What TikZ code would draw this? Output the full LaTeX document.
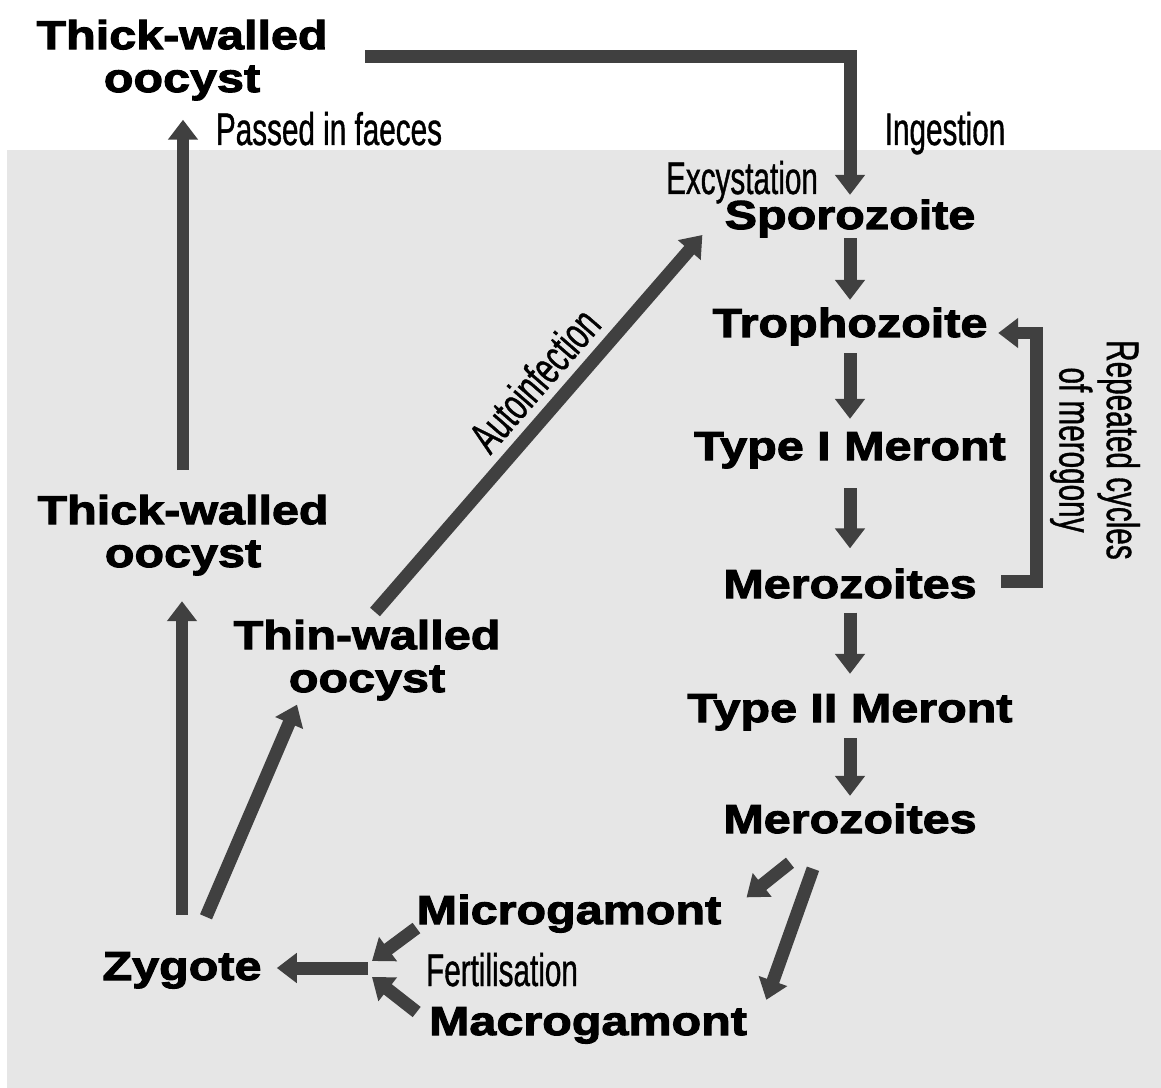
\documentclass[tikz,border=0pt]{standalone}
\usepackage{fontspec}
\setmainfont{Liberation Sans}
\newfontfamily\stagefont[FakeStretch=1.2,FakeBold=2.6]{Liberation Sans Bold}
\newfontfamily\notefont[FakeStretch=0.65,FakeBold=0.8]{Liberation Sans}
\usepackage{xcolor}
\usepackage{tikz}
\usetikzlibrary{arrows.meta,positioning,calc}
\definecolor{hostgrey}{HTML}{E6E6E6}
\definecolor{flowgrey}{HTML}{404040}

\begin{document}
\begin{tikzpicture}[x=0.02cm,y=-0.02cm,
  stage/.style={font=\stagefont\fontsize{23}{24.4}\selectfont,align=center,inner sep=0.15cm,anchor=base},
  note/.style={font=\notefont\fontsize{26}{27}\selectfont,align=center,inner sep=0pt,anchor=base},
  flow/.style={draw=flowgrey,line width=0.26cm,-{Triangle[length=0.4cm,width=0.58cm]}}]
  \useasboundingbox (0,0) rectangle (1161,1088);
  % inside the host
  \fill[hostgrey] (7,150) rectangle (1161,1088);

  \node[stage,anchor=north] (oocystout) at (182,12) {Thick-walled\\oocyst};
  \node[stage] (spor)    at (850,229)  {Sporozoite};
  \node[stage] (troph)   at (850,337)  {Trophozoite};
  \node[stage] (meront1) at (850,460)  {Type I Meront};
  \node[stage] (mero1)   at (850,598)  {Merozoites};
  \node[stage] (meront2) at (850,722)  {Type II Meront};
  \node[stage] (mero2)   at (850,833)  {Merozoites};
  \node[stage] (micro)   at (569,924)  {Microgamont};
  \node[stage] (macro)   at (588,1035) {Macrogamont};
  \node[stage] (zyg)     at (182,980)  {Zygote};
  \node[stage,anchor=north] (oocystin) at (183,487) {Thick-walled\\oocyst};
  \node[stage,anchor=north] (thin)     at (367,612) {Thin-walled\\oocyst};

  \node[note] (faeces) at (329,145) {Passed in faeces};
  \node[note] (ingest) at (945,145) {Ingestion};
  \node[note] (excyst) at (742,194) {Excystation};
  \node[note] (fert)   at (502,986) {Fertilisation};
  \node[note,anchor=center,rotate=-90] (merog) at (1095,450) {Repeated cycles\\of merogony};
  \coordinate (fertjoin) at (368,968);

  \draw[flow] ([shift={(30,-4)}]oocystout.east) -| ([shift={(0,3)}]spor.north);
  \draw[flow,shorten <=-0.14cm] (spor) -- (troph);
  \draw[flow,shorten >=0.11cm] (troph) -- (meront1);
  \draw[flow,shorten <=0.24cm,shorten >=0.25cm] (meront1) -- (mero1);
  \draw[flow,shorten <=0.13cm,shorten >=0.25cm] (mero1) -- (meront2);
  \draw[flow] (meront2) -- (mero2);
  \draw[flow] ([shift={(17,-17)}]mero1.base east) -- ++(35,0)
              |- ([shift={(3,-4)}]troph.base east);

  \draw[flow] ([shift={(-60,21.5)}]mero2.south) -- ([shift={(17.5,10.5)}]micro.north east);
  \draw[flow] ([shift={(-37,27.5)}]mero2.south) -- ([shift={(11.5,0.5)}]macro.north east);
  \draw[flow] ([shift={(7.5,4)}]micro.base west) -- ([shift={(4,-7)}]fertjoin);
  \draw[flow] ([shift={(-4.5,-23)}]macro.base west) -- ([shift={(4,9)}]fertjoin);
  \draw[flow,shorten >=0.15cm] (fertjoin) -- (fertjoin -| zyg.east);

  \draw[flow] ([shift={(0,-29.5)}]zyg.north) -- ([shift={(0,18)}]zyg.north |- oocystin.south);
  \draw[flow] ([shift={(0,-17)}]oocystin.north) -- ([shift={(0,11.5)}]oocystin.north |- oocystout.south);
  \draw[flow] ([shift={(24,-27.5)}]zyg.north) -- ([shift={(-70,-3.6)}]thin.south);
  \draw[flow] ([shift={(8,0)}]thin.north) -- ([shift={(-14.5,6)}]spor.base west)
    node[note,pos=0.56,above=0.17cm,sloped] (auto) {Autoinfection};
\end{tikzpicture}
\end{document}
